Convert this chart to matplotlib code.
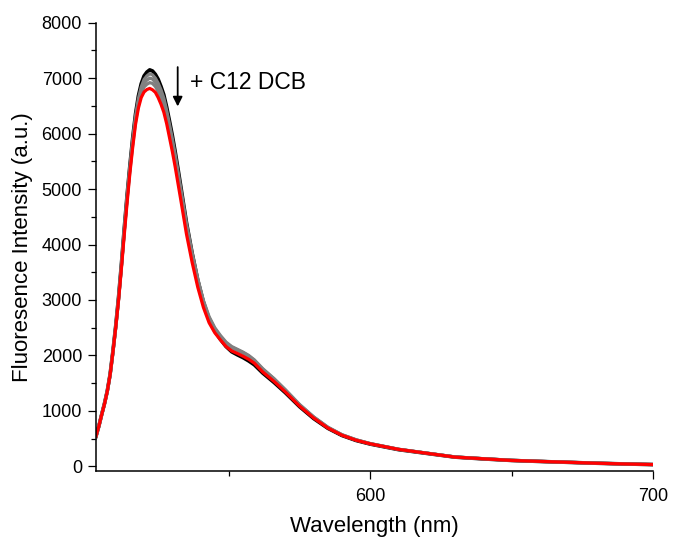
import matplotlib
matplotlib.use("Agg")
import matplotlib.pyplot as plt
from matplotlib.ticker import MultipleLocator

plt.rcParams['font.family'] = ['Liberation Sans', 'DejaVu Sans']

# wavelength (nm)
wl = [503, 504, 505, 506, 507, 508, 509, 510, 511, 512, 513, 514, 515, 516, 517,
      518, 519, 520, 521, 522, 523, 524, 525, 526, 527, 528, 529, 530, 531, 532, 533,
      535, 537, 539, 541, 543, 545, 547, 549, 551, 553, 555, 557, 559, 562, 566,
      570, 575, 580, 585, 590, 595, 600, 610, 620, 630, 640, 650, 660, 670, 680,
      690, 700]

# spectra, before titration (black) -> end (red)
black = [540, 720, 930, 1130, 1360, 1660, 2080, 2540, 3060, 3650, 4290, 4890, 5430,
         5930, 6360, 6680, 6900, 7040, 7110, 7150, 7130, 7070, 6980, 6850, 6700, 6480,
         6230, 5970, 5680, 5370, 5050,
         4400, 3850, 3360, 2960, 2650, 2440, 2290, 2160, 2065, 2010, 1960, 1900, 1830,
         1680, 1510,
         1325, 1075, 860, 685, 555, 465, 400, 300, 232, 165, 133, 105, 87, 71, 55, 42, 30]
gray1 = [540, 720, 930, 1125, 1355, 1655, 2070, 2525, 3040, 3630, 4260, 4860, 5400,
         5890, 6320, 6630, 6840, 6975, 7040, 7080, 7060, 7000, 6910, 6790, 6640, 6420,
         6170, 5910, 5630, 5320, 5010,
         4380, 3850, 3380, 2990, 2700, 2500, 2360, 2240, 2160, 2110, 2060, 2000, 1920,
         1760, 1580,
         1380, 1115, 890, 705, 570, 478, 410, 308, 238, 168, 137, 108, 89, 73, 56, 43, 32]
gray2 = [540, 720, 928, 1123, 1350, 1650, 2060, 2515, 3025, 3610, 4235, 4830, 5360,
         5840, 6270, 6570, 6780, 6905, 6965, 7000, 6985, 6925, 6840, 6715, 6570, 6350,
         6100, 5840, 5560, 5260, 4950,
         4330, 3810, 3350, 2970, 2680, 2485, 2345, 2225, 2150, 2100, 2050, 1990, 1910,
         1750, 1575,
         1375, 1110, 888, 703, 568, 477, 409, 307, 237, 167, 136, 108, 89, 73, 56, 43, 32]
gray3 = [540, 720, 926, 1122, 1348, 1645, 2055, 2505, 3015, 3595, 4215, 4800, 5330,
         5800, 6220, 6510, 6720, 6840, 6890, 6920, 6905, 6850, 6760, 6635, 6490, 6270,
         6030, 5770, 5500, 5200, 4890,
         4280, 3760, 3310, 2940, 2655, 2465, 2330, 2210, 2135, 2090, 2040, 1980, 1900,
         1740, 1565,
         1368, 1105, 885, 700, 566, 476, 408, 306, 237, 167, 136, 107, 89, 72, 56, 43, 32]
red = [540, 720, 925, 1120, 1350, 1650, 2060, 2510, 3000, 3570, 4170, 4750, 5290,
       5760, 6170, 6460, 6650, 6750, 6795, 6815, 6790, 6745, 6650, 6530, 6385, 6180,
       5930, 5680, 5405, 5105, 4805,
       4190, 3680, 3230, 2865, 2590, 2410, 2280, 2160, 2080, 2035, 1985, 1930, 1860,
       1700, 1530,
       1340, 1085, 870, 690, 560, 470, 405, 305, 235, 165, 135, 105, 88, 72, 55, 42, 31]

fig = plt.figure(figsize=(6.73, 5.45), dpi=100)
ax = fig.add_axes([0.1426, 0.1358, 0.8277, 0.8225])

ax.plot(wl, black, color='black', lw=2.6)
for g in [gray1, gray2, gray3]:
    ax.plot(wl, g, color='#808080', lw=2.3)
ax.plot(wl, red, color='red', lw=2.3)

ax.set_xlim(503, 700)
ax.set_ylim(-85, 8000)
ax.xaxis.set_major_locator(MultipleLocator(100))
ax.xaxis.set_minor_locator(MultipleLocator(50))
ax.yaxis.set_major_locator(MultipleLocator(1000))
ax.yaxis.set_minor_locator(MultipleLocator(500))

for s in ['top', 'right']:
    ax.spines[s].set_visible(False)
for s in ['left', 'bottom']:
    ax.spines[s].set_linewidth(1.1)
ax.tick_params(which='major', length=6, width=0.9, labelsize=13, pad=4)
ax.tick_params(axis='x', which='major', pad=6.5)
ax.tick_params(which='minor', length=3.5, width=0.9)

ax.set_xlabel('Wavelength (nm)', fontsize=16, labelpad=8)
ax.set_ylabel('Fluoresence Intensity (a.u.)', fontsize=16, labelpad=6)

ax.annotate('', xy=(531.9, 6440), xytext=(531.9, 7250),
            arrowprops=dict(arrowstyle='-|>', color='black', lw=1.3, mutation_scale=14))
ax.text(536.3, 6913, '+ C12 DCB', fontsize=16.5, va='center', ha='left')

fig.savefig('out.png', dpi=100)
